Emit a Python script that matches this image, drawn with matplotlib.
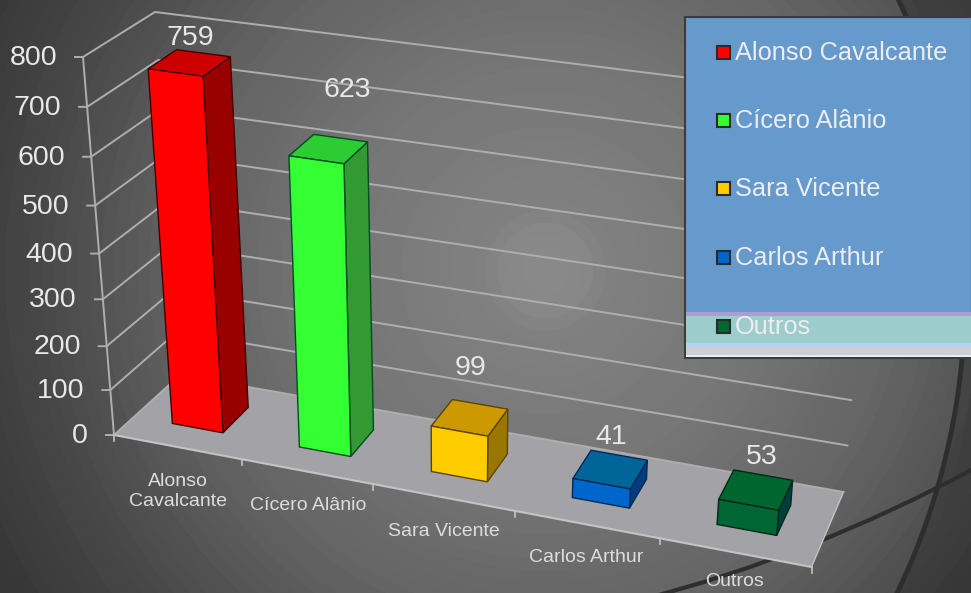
import numpy as np
import matplotlib
matplotlib.use("Agg")
import matplotlib.pyplot as plt
from matplotlib.patches import Polygon, Rectangle, PathPatch
from matplotlib.path import Path

plt.rcParams['font.family'] = ['Liberation Sans', 'DejaVu Sans']

# data
categories = ['Alonso\nCavalcante', 'Cícero Alânio', 'Sara Vicente', 'Carlos Arthur', 'Outros']
legend_names = ['Alonso Cavalcante', 'Cícero Alânio', 'Sara Vicente', 'Carlos Arthur', 'Outros']
votes = [759, 623, 99, 41, 53]
y_ticks = [0, 100, 200, 300, 400, 500, 600, 700, 800]
# the picture is stretched, so the ticks are not evenly spaced
y_tick_frac = [0, 0.119, 0.235, 0.359, 0.48, 0.607, 0.736, 0.868, 1.0]

front_colors = ['#ff0000', '#33ff33', '#ffcc00', '#0066cc', '#006633']
top_colors = ['#cc0000', '#2ecc33', '#cc9900', '#006699', '#00662f']
side_colors = ['#990000', '#339933', '#997700', '#003d80', '#003d3d']
edge_colors = ['#400000', '#004d20', '#5c4500', '#002a55', '#00281a']

TEXT = '#e8e8e8'
GRID = '#aeaeae'

# corners of the plot box in pixels: (across, depth, height)
corners = {
    (0, 0, 0): (114, 435), (1, 0, 0): (811.5, 567), (0, 1, 0): (180, 375), (1, 1, 0): (843.5, 492),
    (0, 0, 1): (83, 57), (1, 0, 1): (848, 162), (0, 1, 1): (155, 12), (1, 1, 1): (876, 101),
}
# category boundaries along the front edge
cat_edges = [0, 0.184, 0.371, 0.575, 0.783, 1.0]
BAR_FRAC = 0.4
V_FRONT, V_BACK = 0.31, 0.72


def proj(u, v, value):
    w = np.interp(value, y_ticks, y_tick_frac)
    p = np.zeros(2)
    for (a, b, c), xy in corners.items():
        k = (u if a else 1 - u) * (v if b else 1 - v) * (w if c else 1 - w)
        p += k * np.array(xy)
    return p


def poly(ax, pts, face, edge, z=3):
    ax.add_patch(Polygon(pts, closed=True, facecolor=face, edgecolor=edge, linewidth=1, zorder=z))


def background():
    yy, xx = np.mgrid[0:593, 0:971]
    r = np.hypot(xx - 545, yy - 270)
    r_band = np.floor(r / 12) * 12
    gray = np.interp(r_band, [0, 45, 50, 200, 350, 500, 620, 750], [137, 135, 129, 118, 100, 72, 54, 50])
    d = np.hypot(xx - 277, yy - 295)
    gray = np.where(d > 686, gray * 0.8, gray)
    gray = np.where(d > 700, np.minimum(gray, 62), gray)
    return gray / 255


fig = plt.figure(figsize=(9.71, 5.93), dpi=100)
ax = fig.add_axes([0, 0, 1, 1])
ax.set_xlim(0, 971)
ax.set_ylim(593, 0)
ax.axis('off')

ax.imshow(background(), cmap='gray', vmin=0, vmax=1, extent=(0, 971, 593, 0), aspect='auto', zorder=0)

# dark curves of the slide background
t = np.linspace(-0.5, 0.5, 100)
ax.plot(277 + 688 * np.cos(t), 295 + 688 * np.sin(t), color='#2e2e2e', lw=3.5, zorder=1)
arc = Path([(640, 600), (812, 556), (975, 468)], [Path.MOVETO, Path.CURVE3, Path.CURVE3])
ax.add_patch(PathPatch(arc, fill=False, edgecolor='#2e2e2e', lw=3, zorder=1))

# floor
poly(ax, [proj(0, 0, 0), proj(1, 0, 0), proj(1, 1, 0), proj(0, 1, 0)], '#a3a3a7', 'none', z=1.5)
ax.plot(*zip(proj(0, 0, 0), proj(1, 0, 0)), color='#c4c4c4', lw=1.5, zorder=2)
ax.plot(*zip(proj(1, 0, 0), proj(1, 1, 0)), color='#c4c4c4', lw=1, zorder=2)

# walls and ticks
for tick in y_ticks:
    a, b, c = proj(0, 0, tick), proj(0, 1, tick), proj(1, 1, tick)
    ax.plot([a[0] - 8, a[0], b[0], c[0]], [a[1], a[1], b[1], c[1]], color=GRID, lw=1.4, zorder=2)
    ax.text(a[0] - 26, a[1] + 1, str(tick), color=TEXT, fontsize=20.5, ha='right', va='center', zorder=6)
ax.plot(*zip(proj(0, 0, 0), proj(0, 0, y_ticks[-1])), color=GRID, lw=1.4, zorder=2)
for e in cat_edges:
    p = proj(e, 0, 0)
    ax.plot([p[0], p[0]], [p[1], p[1] + 6], color='#c4c4c4', lw=1.2, zorder=2)

# bars
for i, val in enumerate(votes):
    mid = (cat_edges[i] + cat_edges[i + 1]) / 2
    half = (cat_edges[i + 1] - cat_edges[i]) * BAR_FRAC / 2
    u0, u1 = mid - half, mid + half
    poly(ax, [proj(u1, V_FRONT, 0), proj(u1, V_BACK, 0), proj(u1, V_BACK, val), proj(u1, V_FRONT, val)],
         side_colors[i], edge_colors[i])
    poly(ax, [proj(u0, V_FRONT, val), proj(u1, V_FRONT, val), proj(u1, V_BACK, val), proj(u0, V_BACK, val)],
         top_colors[i], edge_colors[i])
    poly(ax, [proj(u0, V_FRONT, 0), proj(u1, V_FRONT, 0), proj(u1, V_FRONT, val), proj(u0, V_FRONT, val)],
         front_colors[i], edge_colors[i])

# text positions in pixels
value_pos = [(190, 38), (347, 90), (470, 368), (611, 437), (762, 457)]
cat_pos = [(178, 491.5), (308, 506), (444, 532), (586, 558), (735, 581)]
for val, (x, y) in zip(votes, value_pos):
    ax.text(x, y, str(val), color=TEXT, fontsize=20.5, ha='center', va='center', zorder=6)
for name, (x, y) in zip(categories, cat_pos):
    ax.text(x, y, name, color='#dcdcdc', fontsize=14, ha='center', va='center', linespacing=1.3, zorder=6)

# legend box
LEFT, RIGHT = 685, 972
ax.add_patch(Rectangle((LEFT, 17), RIGHT - LEFT, 341, facecolor='#6699cc', edgecolor='#3c3c3c', lw=1.5, zorder=7))
bands = [(312, 4, '#ab9fd2'), (316, 27, '#9ccccb'), (343, 4, '#b5d2ee'), (347, 8, '#cfcfd2'), (355, 2, '#e3eef8')]
for y, h, col in bands:
    ax.add_patch(Rectangle((LEFT + 1, y), RIGHT - LEFT, h, facecolor=col, edgecolor='none', zorder=7.5))
legend_y = [52, 120, 188, 257, 326]
for name, y, col in zip(legend_names, legend_y, front_colors):
    ax.add_patch(Rectangle((716.5, y - 6.5), 13, 13, facecolor=col, edgecolor='#2a2a2a', lw=1.5, zorder=8))
    ax.text(735, y + 1, name, color='#ededed', fontsize=18.3, ha='left', va='center', zorder=8)

fig.savefig('out.png', dpi=100)
